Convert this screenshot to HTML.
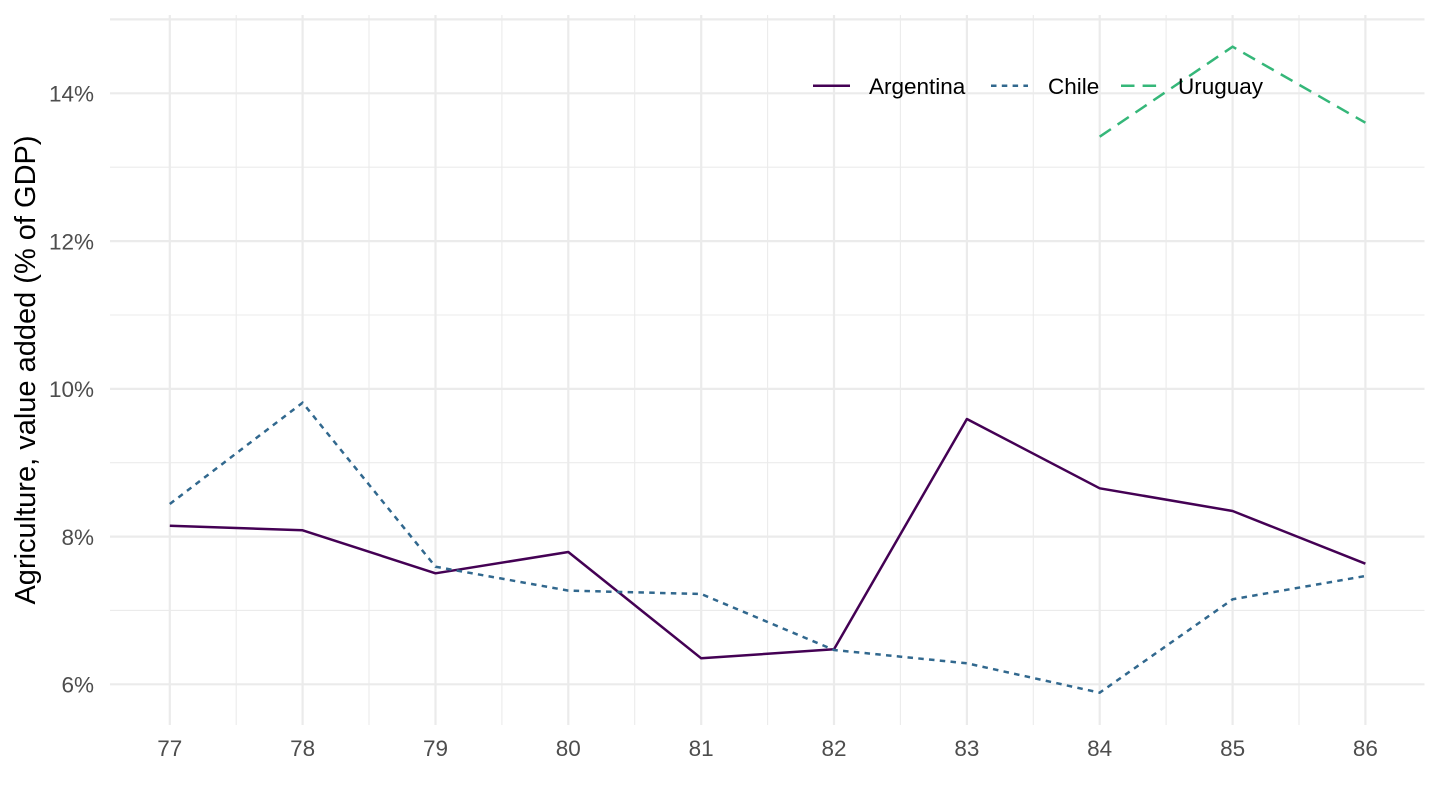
<!DOCTYPE html>
<html>
<head>
<meta charset="utf-8">
<style>
html,body{margin:0;padding:0;background:#fff;}
svg{display:block;}
text{font-family:"Liberation Sans",Arial,sans-serif;}
</style>
</head>
<body>
<svg width="1440" height="810" viewBox="0 0 1440 810" xmlns="http://www.w3.org/2000/svg">
<rect width="1440" height="810" fill="#fff"/>
<!-- minor grid -->
<g stroke="#EBEBEB" stroke-width="1.1" fill="none">
<line x1="110" x2="1424.5" y1="167.2" y2="167.2"/>
<line x1="110" x2="1424.5" y1="315" y2="315"/>
<line x1="110" x2="1424.5" y1="462.7" y2="462.7"/>
<line x1="110" x2="1424.5" y1="610.4" y2="610.4"/>
<line x1="236.2" x2="236.2" y1="15" y2="725"/>
<line x1="369" x2="369" y1="15" y2="725"/>
<line x1="501.9" x2="501.9" y1="15" y2="725"/>
<line x1="634.7" x2="634.7" y1="15" y2="725"/>
<line x1="767.6" x2="767.6" y1="15" y2="725"/>
<line x1="900.4" x2="900.4" y1="15" y2="725"/>
<line x1="1033.3" x2="1033.3" y1="15" y2="725"/>
<line x1="1166.1" x2="1166.1" y1="15" y2="725"/>
<line x1="1299" x2="1299" y1="15" y2="725"/>
</g>
<!-- major grid -->
<g stroke="#EBEBEB" stroke-width="2.2" fill="none">
<line x1="110" x2="1424.5" y1="19.4" y2="19.4"/>
<line x1="110" x2="1424.5" y1="93.3" y2="93.3"/>
<line x1="110" x2="1424.5" y1="241.1" y2="241.1"/>
<line x1="110" x2="1424.5" y1="388.9" y2="388.9"/>
<line x1="110" x2="1424.5" y1="536.6" y2="536.6"/>
<line x1="110" x2="1424.5" y1="684.3" y2="684.3"/>
<line x1="169.8" x2="169.8" y1="15" y2="725"/>
<line x1="302.6" x2="302.6" y1="15" y2="725"/>
<line x1="435.5" x2="435.5" y1="15" y2="725"/>
<line x1="568.3" x2="568.3" y1="15" y2="725"/>
<line x1="701.2" x2="701.2" y1="15" y2="725"/>
<line x1="834" x2="834" y1="15" y2="725"/>
<line x1="966.9" x2="966.9" y1="15" y2="725"/>
<line x1="1099.7" x2="1099.7" y1="15" y2="725"/>
<line x1="1232.6" x2="1232.6" y1="15" y2="725"/>
<line x1="1365.4" x2="1365.4" y1="15" y2="725"/>
</g>
<!-- series -->
<polyline fill="none" stroke="#440154" stroke-width="2.5" stroke-linejoin="round"
 points="169.8,525.7 302.6,530.3 435.5,573.3 568.3,552 701.2,658.3 834,649.3 966.9,419 1099.7,488.3 1232.6,511 1365.4,563.7"/>
<polyline fill="none" stroke="#31688E" stroke-width="2.5" stroke-dasharray="5.5 5.3"
 points="169.8,504 302.6,402.7 435.5,566.7 568.3,590.6 701.2,594 834,650 966.9,663.3 1099.7,692.7 1232.6,599.3 1365.4,576"/>
<polyline fill="none" stroke="#35B779" stroke-width="2.5" stroke-dasharray="13.5 8.1"
 points="1099.7,136.7 1232.6,46.7 1365.4,122.7"/>
<!-- y tick labels -->
<g fill="#4D4D4D" font-size="22.5" text-anchor="end">
<text x="94" y="101.5">14%</text>
<text x="94" y="249.3">12%</text>
<text x="94" y="397.1">10%</text>
<text x="94" y="544.8">8%</text>
<text x="94" y="692.5">6%</text>
</g>
<!-- x tick labels -->
<g fill="#4D4D4D" font-size="22.5" text-anchor="middle">
<text x="169.8" y="756">77</text>
<text x="302.6" y="756">78</text>
<text x="435.5" y="756">79</text>
<text x="568.3" y="756">80</text>
<text x="701.2" y="756">81</text>
<text x="834" y="756">82</text>
<text x="966.9" y="756">83</text>
<text x="1099.7" y="756">84</text>
<text x="1232.6" y="756">85</text>
<text x="1365.4" y="756">86</text>
</g>
<!-- y axis title -->
<text transform="translate(35,370) rotate(-90)" text-anchor="middle" font-size="29" fill="#000">Agriculture, value added (% of GDP)</text>
<!-- legend -->
<line x1="813" x2="850" y1="85.7" y2="85.7" stroke="#440154" stroke-width="2.5"/>
<line x1="991" x2="1028" y1="85.7" y2="85.7" stroke="#31688E" stroke-width="2.5" stroke-dasharray="5.5 5.3"/>
<line x1="1121" x2="1158" y1="85.7" y2="85.7" stroke="#35B779" stroke-width="2.5" stroke-dasharray="13.5 8.1"/>
<g fill="#000" font-size="22.5">
<text x="869" y="94">Argentina</text>
<text x="1048" y="94">Chile</text>
<text x="1178" y="94">Uruguay</text>
</g>
</svg>
</body>
</html>
